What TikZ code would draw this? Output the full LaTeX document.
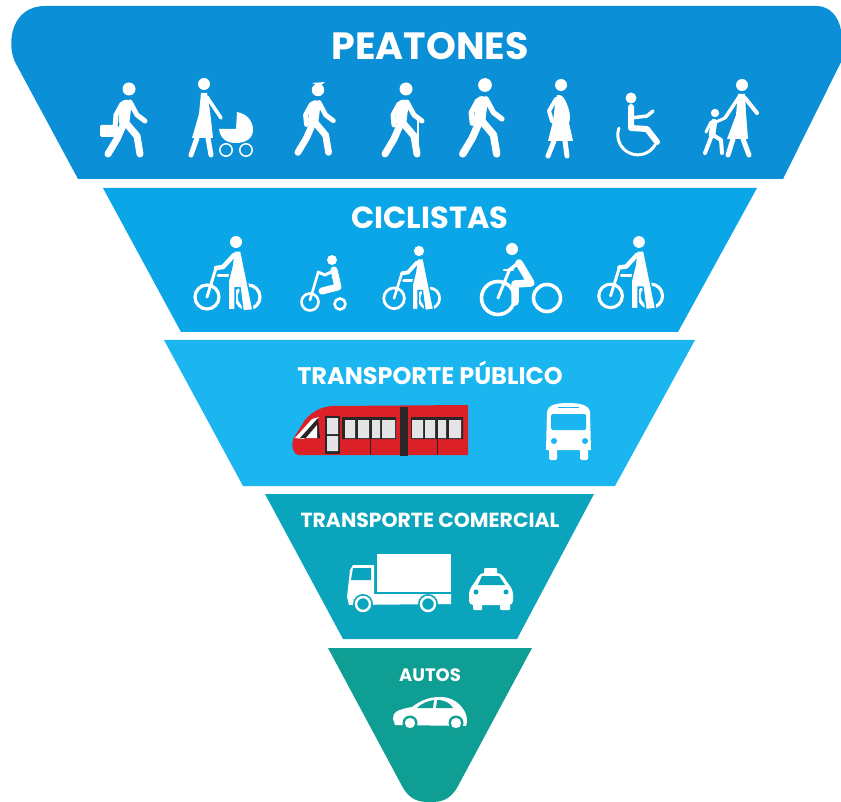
\documentclass[tikz,border=0pt]{standalone}
\usepackage{fontspec}
\setmainfont{Poppins}
\definecolor{cPea}{HTML}{0B8FD6}
\definecolor{cCic}{HTML}{0AA6E8}
\definecolor{cPub}{HTML}{1BB6EF}
\definecolor{cCom}{HTML}{0AA5BC}
\definecolor{cAut}{HTML}{0F9E94}
\definecolor{cRed}{HTML}{DB2028}
\definecolor{cDark}{HTML}{2A2526}
\definecolor{cWin}{HTML}{E4E4E6}
\def\s{1}
\tikzset{
  x=1pt,y=-1pt,
  lw/.style={line width=#1pt*\s},
  ink/.style={draw=white,line cap=round,line join=round},
  title/.style={text=white,inner sep=0pt,anchor=center},
}
\newcommand{\gait}{%
  \draw[ink,lw=11] (-3,16) -- (-5,32);
  \draw[ink,lw=7] (-5,34) -- (-12,50) -- (-21,65);
  \draw[ink,lw=7] (-3,34) -- (8,47) -- (11,65);
  \draw[ink,lw=5] (1,13) -- (8,26) -- (16,32);
}
\newcommand{\icnBrief}[3]{\begin{scope}[shift={(#1,#2)},scale=#3]\def\s{#3}
  \fill[white] (0,0) circle [radius=6.5];\gait
  \draw[ink,lw=5] (-7,15) -- (-13,26) -- (-14,38);
  \fill[white,rounded corners=1.5pt] (-29,36) rectangle (-11,48);
\end{scope}}
\newcommand{\icnPlain}[3]{\begin{scope}[shift={(#1,#2)},scale=#3]\def\s{#3}
  \fill[white] (0,0) circle [radius=6.5];\gait
  \draw[ink,lw=5] (-7,15) -- (-13,26) -- (-12,36);
\end{scope}}
\newcommand{\icnHat}[3]{\icnPlain{#1}{#2}{#3}
  \fill[white] (#1-6,#2-7) -- (#1+7,#2-8) -- (#1+2,#2-4) -- cycle;}
\newcommand{\icnCane}[3]{\begin{scope}[shift={(#1,#2)},scale=#3]\def\s{#3}
  \fill[white] (0,0) circle [radius=6.5];\gait
  \draw[ink,lw=5] (-7,15) -- (-13,26) -- (-12,36);
  \draw[ink,lw=1.6] (12,29) -- (12,67);
\end{scope}}
\newcommand{\icnStroller}[2]{\begin{scope}[shift={(#1,#2)}]
  \fill[white] (0,0) circle [radius=6];
  \fill[white] (-3,9) -- (3,9) -- (6,27) -- (9,54) -- (-12,54) -- (-5,30) -- cycle;
  \draw[ink,lw=5] (-7,54) -- (-13,71); \draw[ink,lw=5] (4,54) -- (7,71);
  \draw[ink,lw=3.5] (3,13) -- (17,34);
  \fill[white] (33,28) .. controls (44,30) and (49,38) .. (49,46) .. controls (49,54) and (42,59) .. (32,59) .. controls (22,59) and (16,54) .. (15,45) -- (32,45) -- cycle;
  \draw[white,line width=1.5pt] (22,66) circle [radius=6.2] (42,66) circle [radius=6.2];
\end{scope}}
\newcommand{\icnPreg}[2]{\begin{scope}[shift={(#1,#2)}]
  \fill[white] (0,0) circle [radius=6];
  \fill[white] (-4,10) .. controls (2,9) and (4,14) .. (7,22) .. controls (10,30) and (9,36) .. (8,38) -- (12,56) -- (-13,56) -- (-8,36) -- (-6,20) -- cycle;
  \draw[ink,lw=4] (-5,14) -- (-12,26) -- (-9,36);
  \draw[ink,lw=5] (-7,56) -- (-13,71); \draw[ink,lw=5] (4,56) -- (6,71);
\end{scope}}
\newcommand{\icnChair}[2]{\begin{scope}[shift={(#1,#2)}]
  \fill[white] (0,0) circle [radius=5.5];
  \draw[ink,lw=6] (0,9) -- (0,30) -- (16,31) -- (26,44);
  \draw[ink,lw=3.5] (0,20) -- (16,18) -- (22,13);
  \draw[white,line cap=round,line width=3pt] (-12,30) arc [start angle=200,end angle=30,radius=20];
\end{scope}}
\newcommand{\icnMother}[2]{\begin{scope}[shift={(#1,#2)}]
  \fill[white] (0,0) circle [radius=6];
  \fill[white] (-4,9) -- (3,9) -- (4,28) -- (6,54) -- (-15,54) -- (-6,30) -- cycle;
  \draw[ink,lw=5] (-9,54) -- (-14,70); \draw[ink,lw=5] (1,54) -- (7,70);
  \draw[ink,lw=3.5] (-3,12) -- (-17,33);
  \draw[ink,lw=4] (3,13) -- (15,28);
  \fill[white] (-27,28) circle [radius=4.2];
  \draw[ink,lw=6.5] (-28,37) -- (-30,50);
  \draw[ink,lw=4] (-30,50) -- (-37,68); \draw[ink,lw=4] (-29,50) -- (-21,55) -- (-20,68);
  \draw[ink,lw=3] (-26,37) -- (-17,33); \draw[ink,lw=3] (-31,37) -- (-36,47);
\end{scope}}
\newcommand{\icnBikeWalk}[3]{\begin{scope}[shift={(#1,#2)},scale=#3]\def\s{#3}
  \fill[white] (0,0) circle [radius=6];
  \draw[white,lw=3.2] (-29,55) circle [radius=12] (12,55) circle [radius=12];
  \draw[ink,lw=3] (-29,55) -- (-20,26); \draw[ink,lw=3] (-18,34) -- (-3,34);
  \filldraw[draw=cCic,fill=white,lw=1.5] (-2,9) -- (5,9) -- (17,68) -- (7,69) -- (4,46) -- (-1,46) -- (-1,68) -- (-8,68) -- (-8,40) -- (-4,24) -- cycle;
  \draw[ink,lw=4.5] (-2,13) -- (-13,25) -- (-20,26);
\end{scope}}
\newcommand{\icnKid}[2]{\begin{scope}[shift={(#1,#2)}]
  \fill[white] (0,0) circle [radius=5];
  \draw[ink,lw=7] (2,10) -- (6,27) -- (-10,31);
  \draw[ink,lw=3] (1,11) -- (-7,15) -- (-14,12);
  \draw[ink,lw=2.6] (-14,13) -- (-22,40);
  \draw[white,line width=2.6pt] (-22,42) circle [radius=8.5] (8,44) circle [radius=5.5];
\end{scope}}
\newcommand{\icnRider}[2]{\begin{scope}[shift={(#1,#2)}]
  \fill[white] (0,0) circle [radius=6];
  \draw[white,line width=3.6pt] (-14,49) circle [radius=16.5] (35,49) circle [radius=13.5];
  \draw[ink,lw=3] (-14,49) -- (-3,22);
  \draw[ink,lw=2.6] (-8,21) -- (1,21);
  \draw[ink,lw=7.5] (7,14) -- (19,34) -- (3,35) -- (3,53);
  \draw[ink,lw=3.5] (5,15) -- (-4,22);
\end{scope}}
\begin{document}
\begin{tikzpicture}
\useasboundingbox (0,0) rectangle (841,802);
\fill[white] (0,0) rectangle (841,802);
% bands
\fill[cPea] (45,6) -- (817,6) .. controls (832,6) and (845,22) .. (841,48) -- (841,62) -- (783,179) -- (78,179) -- (15,62) .. controls (6,42) and (12,6) .. (45,6) -- cycle;
\fill[cCic] (103,188) -- (757,188) -- (678,332) -- (181,332) -- cycle;
\fill[cPub] (164,340) -- (695,340) -- (615,486) -- (243,486) -- cycle;
\fill[cCom] (265,494) -- (594,494) -- (517,639) -- (343,639) -- cycle;
\fill[cAut] (328,648) -- (532,648) -- (458,786) .. controls (450,801) and (440,802) .. (430,802) .. controls (420,802) and (410,801) .. (402,786) -- cycle;
% titles
\node[title,font=\bfseries\fontsize{38}{38}\selectfont] (tPea) at (430,46) {PEATONES};
\node[title,font=\bfseries\fontsize{30.5}{31}\selectfont] (tCic) at (430,218) {CICLISTAS};
\node[title,font=\bfseries\fontsize{24}{24}\selectfont] (tPub) at (430,373) {TRANSPORTE PÚBLICO};
\node[title,font=\bfseries\fontsize{20.4}{21}\selectfont] (tCom) at (430,520) {TRANSPORTE COMERCIAL};
\node[title,font=\bfseries\fontsize{18}{18}\selectfont] (tAut) at (430,675) {AUTOS};
% pedestrians
\icnBrief{129}{89}{1}
\icnStroller{204}{84}
\icnHat{318}{90}{.96}
\icnCane{406}{89}{1}
\icnPlain{485}{85}{1.06}
\icnPreg{561}{85}
\icnChair{631}{98}
\icnMother{742}{85}
% cyclists
\icnBikeWalk{236}{242}{1}
\icnKid{332}{260}
\icnBikeWalk{419}{251}{.86}
\icnRider{512}{249}
\icnBikeWalk{639}{242}{.98}
% tram
\fill[cRed] (468,405) -- (332,406) .. controls (320,407) and (312,412) .. (305,420) -- (295,436) .. controls (291,442) and (291,452) .. (298,455) -- (468,455) -- cycle;
\fill[white] (295,438) -- (312,419) -- (319,417) -- (304,439) -- cycle;
\fill[cDark] (300,438) -- (318,418) -- (320,438) -- cycle;
\fill[white] (306,438) -- (317,425) -- (317,438) -- cycle;
\fill[cDark] (400,407) rectangle (408,456);
\fill[cDark] (325,416) rectangle (340,454);
\fill[cWin] (327,418) rectangle (338,434) (327,436) rectangle (338,451);
\fill[cDark] (342,417) rectangle (396,439) (411,417) rectangle (463,439);
\fill[cWin] (345,420) rectangle (355,438) (358,420) rectangle (369,438) (372,420) rectangle (380,438) (382,420) rectangle (395,438);
\fill[cWin] (412,420) rectangle (423,438) (425,420) rectangle (435,438) (438,420) rectangle (446,438) (449,420) rectangle (461,438);
\draw[cDark,line width=.5pt] (370,439) -- (370,455) (437,439) -- (437,455);
% bus
\fill[white] (547,412) .. controls (548,405) and (556,403) .. (568,403) .. controls (580,403) and (589,405) .. (590,412) -- (591,450) -- (546,450) -- cycle;
\fill[white,rounded corners=1.5pt] (549,448) rectangle (557,460) (580,448) rectangle (588,460);
\draw[cPub,line width=1pt] (558,407.5) -- (579,407.5);
\fill[cPub,rounded corners=1.5pt] (551,414) rectangle (586,430);
\fill[cPub] (554,441) circle [radius=3] (585,441) circle [radius=3];
% truck
\fill[white] (377,554) rectangle (451,592);
\fill[white] (349,605) -- (347,597) -- (350,570) -- (353,565) -- (374,565) -- (374,593) -- (451,593) -- (451,604) -- cycle;
\fill[cCom] (353,568) -- (371,568) -- (371,580) -- (351,580) -- cycle;
\draw[cCom,line width=.8pt] (374,593) -- (451,593);
\fill[cCom] (363,604) circle [radius=10] (428,604) circle [radius=10];
\draw[white,line width=2.4pt] (363,604) circle [radius=7] (428,604) circle [radius=7];
% taxi
\fill[white,rounded corners=4pt] (475,582) -- (480,573) -- (501,573) -- (507,582) -- (513,590) -- (513,605) -- (469,605) -- (469,590) -- cycle;
\fill[white,rounded corners=1pt] (484,568) rectangle (497,574) (473,600) rectangle (482,610) (500,600) rectangle (510,610);
\fill[cCom] (478,585) -- (482,576) -- (499,576) -- (505,585) -- cycle;
\fill[cCom] (476,592) circle [radius=2.5] (506,592) circle [radius=2.5];
% car
\fill[white] (393,719) .. controls (393,712) and (396,710) .. (412,707) .. controls (420,701) and (428,697) .. (440,697) .. controls (452,697) and (460,703) .. (465,712) .. controls (468,718) and (467,724) .. (466,726) -- (395,725) -- cycle;
\fill[cAut] (417,708) .. controls (422,703) and (428,701) .. (434,700) -- (433,708) -- cycle;
\fill[cAut] (437,700) .. controls (445,700) and (450,703) .. (453,708) -- (436,708) -- cycle;
\fill[cAut] (410,723) circle [radius=7.5] (456,723) circle [radius=7.5];
\fill[white] (410,723) circle [radius=5.2] (456,723) circle [radius=5.2];
\end{tikzpicture}
\end{document}
